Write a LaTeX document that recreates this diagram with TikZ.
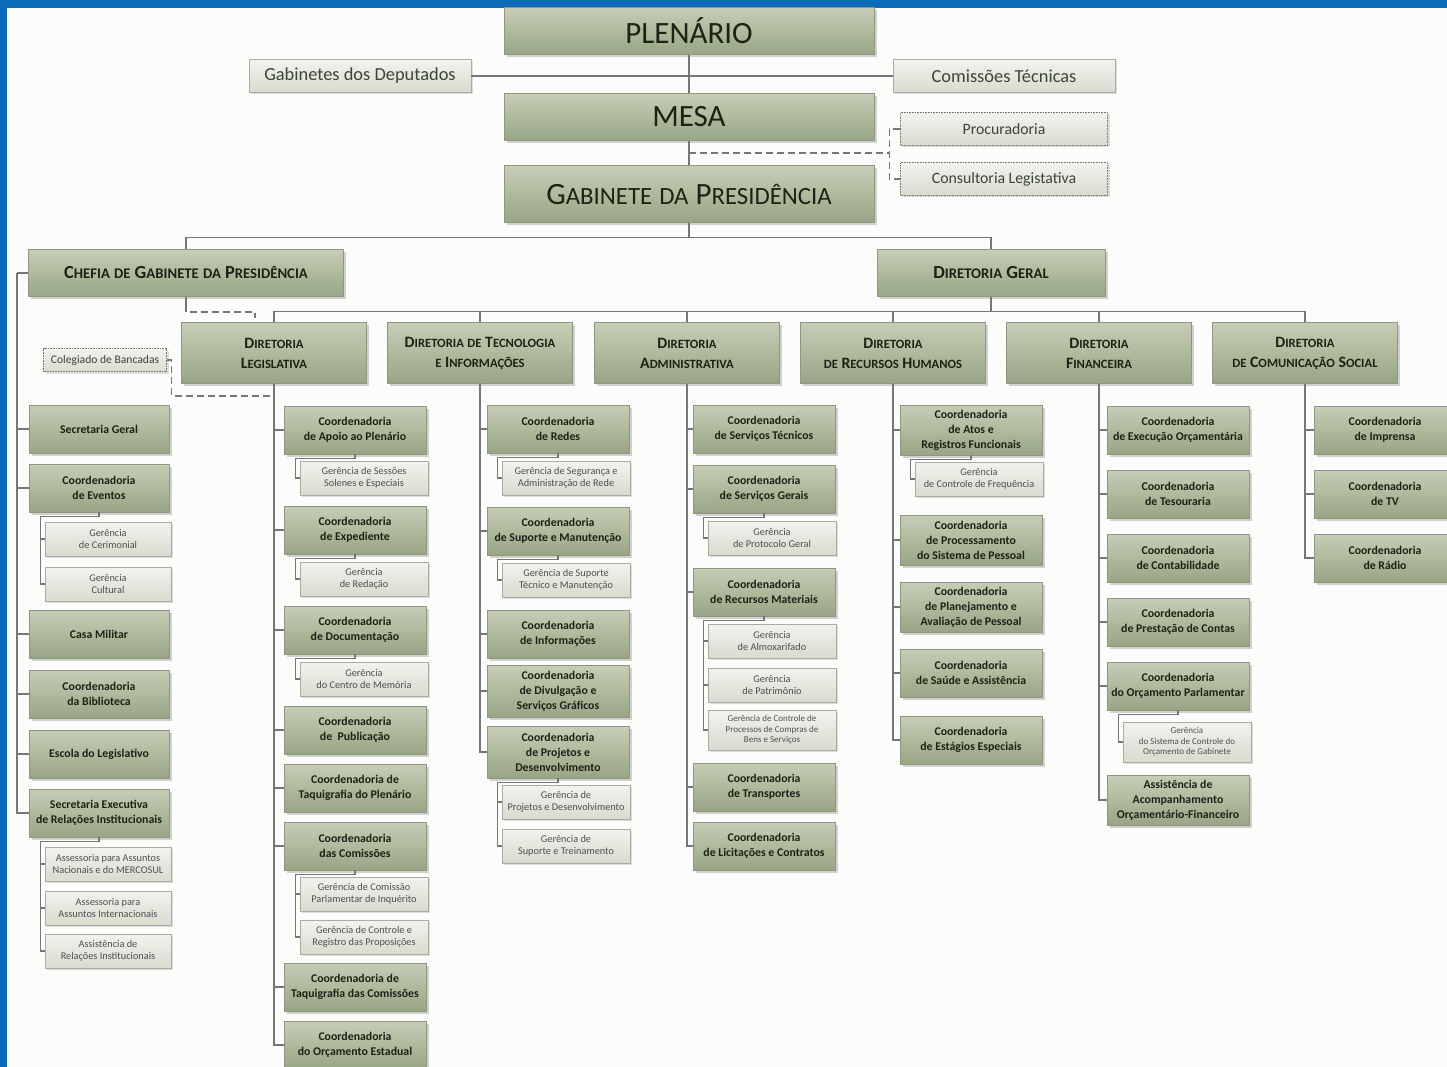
\documentclass[tikz,border=0pt]{standalone}
\usepackage{fontspec}
\setmainfont{Carlito}
\usetikzlibrary{shadows,calc}
\definecolor{frameblue}{HTML}{0B6BB8}
\definecolor{paper}{HTML}{FCFCFB}
\definecolor{gtop}{HTML}{C6CEB6}
\definecolor{gbot}{HTML}{98A585}
\definecolor{gdraw}{HTML}{8E977F}
\definecolor{ltop}{HTML}{F2F3EE}
\definecolor{lbot}{HTML}{D8DBCF}
\definecolor{ldraw}{HTML}{A8AD9F}
\definecolor{linegray}{HTML}{767676}
\definecolor{ink}{HTML}{1B2315}
\definecolor{inkl}{HTML}{4F4F4F}
\makeatletter
\newcommand\SC[2]{#1{\fontsize{\fpeval{0.8*\f@size}}{\f@baselineskip}\selectfont #2}}
\makeatother
\tikzset{
  gbox/.style={draw=gdraw,line width=0.6pt,top color=gtop,bottom color=gbot,drop shadow={shadow xshift=2.5pt,shadow yshift=-2.5pt,opacity=0.35},text=ink,align=center,inner sep=1pt},
  lbox/.style={draw=ldraw,line width=0.6pt,top color=ltop,bottom color=lbot,drop shadow={shadow xshift=2pt,shadow yshift=-2pt,opacity=0.25},text=inkl,align=center,inner sep=1pt},
  topbox/.style={gbox,minimum width=370pt,font=\fontsize{31}{33}\selectfont},
  headbox/.style={gbox,minimum height=47pt,font=\bfseries\fontsize{18.4}{21}\selectfont},
  dirbox/.style={gbox,minimum width=185pt,minimum height=61pt,font=\bfseries\fontsize{15.8}{20}\selectfont},
  coord/.style={gbox,minimum width=142pt,minimum height=48pt,font=\bfseries\fontsize{11.8}{15}\selectfont},
  ger/.style={lbox,minimum width=128pt,minimum height=34pt,font=\fontsize{10.3}{12}\selectfont},
  gersmall/.style={ger,minimum height=40pt,font=\fontsize{9}{10.5}\selectfont},
  side/.style={lbox,minimum width=222pt,minimum height=33pt,font=\fontsize{18.4}{21}\selectfont,text=ink!85},
  dbox/.style={lbox,draw=ldraw!70!black,densely dotted,minimum width=207pt,minimum height=33pt,font=\fontsize{15.8}{18}\selectfont,text=ink!85},
  link/.style={draw=linegray,line width=1.3pt},
  dlink/.style={link,dash pattern=on 7pt off 4pt}
}
\begin{document}
\begin{tikzpicture}[x=1pt,y=-1pt]
\path[use as bounding box] (0,0) rectangle (1447,1067);
\fill[frameblue] (0,0) rectangle (1447,1067);
\fill[paper] (7,8) rectangle (1447,1067);

% top levels
\node[topbox,minimum height=47pt] (plen) at (689,31) {PLENÁRIO};
\node[topbox,minimum height=47pt] (mesa) at (689,117) {MESA};
\node[topbox,minimum height=57pt] (gp) at (689,194) {\SC{G}{ABINETE} \SC{}{DA} \SC{P}{RESIDÊNCIA}};
\node[side] (gab) at (360,76) {Gabinetes dos Deputados};
\node[side] (com) at (1004,76) {Comissões Técnicas};
\node[dbox] (proc) at (1004,129) {Procuradoria};
\node[dbox] (cons) at (1004,179) {Consultoria Legistativa};
\node[headbox,minimum width=315pt] (cg) at (186,273) {\SC{C}{HEFIA} \SC{}{DE} \SC{G}{ABINETE} \SC{}{DA} \SC{P}{RESIDÊNCIA}};
\node[headbox,minimum width=228pt] (dg) at (991,273) {\SC{D}{IRETORIA} \SC{G}{ERAL}};

% diretorias
\node[dirbox] (dl) at (274,353) {\SC{D}{IRETORIA}\\\SC{L}{EGISLATIVA}};
\node[dirbox] (dti) at (480,353) {\SC{D}{IRETORIA} \SC{}{DE} \SC{T}{ECNOLOGIA}\\\SC{}{E} \SC{I}{NFORMAÇÕES}};
\node[dirbox] (da) at (687,353) {\SC{D}{IRETORIA}\\\SC{A}{DMINISTRATIVA}};
\node[dirbox] (drh) at (893,353) {\SC{D}{IRETORIA}\\\SC{}{DE} \SC{R}{ECURSOS} \SC{H}{UMANOS}};
\node[dirbox] (df) at (1099,353) {\SC{D}{IRETORIA}\\\SC{F}{INANCEIRA}};
\node[dirbox] (dcs) at (1305,353) {\SC{D}{IRETORIA}\\\SC{}{DE} \SC{C}{OMUNICAÇÃO} \SC{S}{OCIAL}};
\node[dbox,minimum width=123pt,minimum height=23pt,font=\fontsize{11.6}{13}\selectfont] (colb) at (105,360) {Colegiado de Bancadas};

% chefia de gabinete
\node[coord,minimum width=140pt] (sg) at (99,429) {Secretaria Geral};
\node[coord,minimum width=140pt] (cev) at (99,488) {Coordenadoria\\de Eventos};
\node[ger,minimum width=126pt] (gcer) at (108,539) {Gerência\\de Cerimonial};
\node[ger,minimum width=126pt] (gcul) at (108,584) {Gerência\\Cultural};
\node[coord,minimum width=140pt] (cm) at (99,634) {Casa Militar};
\node[coord,minimum width=140pt] (cbib) at (99,694) {Coordenadoria\\da Biblioteca};
\node[coord,minimum width=140pt] (esc) at (99,754) {Escola do Legislativo};
\node[coord,minimum width=140pt] (sec) at (99,813) {Secretaria Executiva\\de Relações Institucionais};
\node[ger,minimum width=126pt] (gnac) at (108,864) {Assessoria para Assuntos\\Nacionais e do MERCOSUL};
\node[ger,minimum width=126pt] (gint) at (108,908) {Assessoria para\\Assuntos Internacionais};
\node[ger,minimum width=126pt] (gari) at (108,951) {Assistência de\\Relações Institucionais};

% diretoria legislativa
\node[coord] (dl1) at (355,430) {Coordenadoria\\de Apoio ao Plenário};
\node[ger] (dlg1) at (364,478) {Gerência de Sessões\\Solenes e Especiais};
\node[coord] (dl2) at (355,530) {Coordenadoria\\de Expediente};
\node[ger] (dlg2) at (364,579) {Gerência\\de Redação};
\node[coord] (dl3) at (355,630) {Coordenadoria\\de Documentação};
\node[ger] (dlg3) at (364,679) {Gerência\\do Centro de Memória};
\node[coord] (dl4) at (355,730) {Coordenadoria\\de\ \ Publicação};
\node[coord] (dl5) at (355,788) {Coordenadoria de\\Taquigrafia do Plenário};
\node[coord] (dl6) at (355,846) {Coordenadoria\\das Comissões};
\node[ger] (dlg4) at (364,894) {Gerência de Comissão\\Parlamentar de Inquérito};
\node[ger] (dlg5) at (364,937) {Gerência de Controle e\\Registro das Proposições};
\node[coord] (dl7) at (355,987) {Coordenadoria de\\Taquigrafia das Comissões};
\node[coord] (dl8) at (355,1045) {Coordenadoria\\do Orçamento Estadual};

% tecnologia e informacoes
\node[coord] (ti1) at (558,429) {Coordenadoria\\de Redes};
\node[ger] (tig1) at (566,478) {Gerência de Segurança e\\Administração de Rede};
\node[coord] (ti2) at (558,531) {Coordenadoria\\de Suporte e Manutenção};
\node[ger] (tig2) at (566,580) {Gerência de Suporte\\Técnico e Manutenção};
\node[coord] (ti3) at (558,634) {Coordenadoria\\de Informações};
\node[coord,minimum height=52pt] (ti4) at (558,691) {Coordenadoria\\de Divulgação e\\Serviços Gráficos};
\node[coord,minimum height=52pt] (ti5) at (558,752) {Coordenadoria\\de Projetos e\\Desenvolvimento};
\node[ger] (tig3) at (566,802) {Gerência de\\Projetos e Desenvolvimento};
\node[ger] (tig4) at (566,846) {Gerência de\\Suporte e Treinamento};

% administrativa
\node[coord] (ad1) at (764,429) {Coordenadoria\\de Serviços Técnicos};
\node[coord] (ad2) at (764,489) {Coordenadoria\\de Serviços Gerais};
\node[ger] (adg1) at (772,538) {Gerência\\de Protocolo Geral};
\node[coord] (ad3) at (764,592) {Coordenadoria\\de Recursos Materiais};
\node[ger] (adg2) at (772,641) {Gerência\\de Almoxarifado};
\node[ger] (adg3) at (772,685) {Gerência\\de Patrimônio};
\node[gersmall] (adg4) at (772,730) {Gerência de Controle de\\Processos de Compras de\\Bens e Serviços};
\node[coord] (ad4) at (764,787) {Coordenadoria\\de Transportes};
\node[coord] (ad5) at (764,846) {Coordenadoria\\de Licitações e Contratos};

% recursos humanos
\node[coord,minimum height=50pt] (rh1) at (971,430) {Coordenadoria\\de Atos e\\Registros Funcionais};
\node[ger] (rhg1) at (979,479) {Gerência\\de Controle de Frequência};
\node[coord,minimum height=50pt] (rh2) at (971,540) {Coordenadoria\\de Processamento\\do Sistema de Pessoal};
\node[coord,minimum height=50pt] (rh3) at (971,607) {Coordenadoria\\de Planejamento e\\Avaliação de Pessoal};
\node[coord] (rh4) at (971,673) {Coordenadoria\\de Saúde e Assistência};
\node[coord] (rh5) at (971,740) {Coordenadoria\\de Estágios Especiais};

% financeira
\node[coord] (fi1) at (1178,430) {Coordenadoria\\de Execução Orçamentária};
\node[coord] (fi2) at (1178,494) {Coordenadoria\\de Tesouraria};
\node[coord] (fi3) at (1178,558) {Coordenadoria\\de Contabilidade};
\node[coord] (fi4) at (1178,622) {Coordenadoria\\de Prestação de Contas};
\node[coord] (fi5) at (1178,686) {Coordenadoria\\do Orçamento Parlamentar};
\node[gersmall] (fig1) at (1187,742) {Gerência\\do Sistema de Controle do\\Orçamento de Gabinete};
\node[coord,minimum height=50pt] (fi6) at (1178,800) {Assistência de\\Acompanhamento\\Orçamentário-Financeiro};

% comunicacao social
\node[coord] (cs1) at (1385,430) {Coordenadoria\\de Imprensa};
\node[coord] (cs2) at (1385,494) {Coordenadoria\\de TV};
\node[coord] (cs3) at (1385,558) {Coordenadoria\\de Rádio};

% connectors
\draw[link] (plen) -- (mesa); \draw[link] (mesa) -- (gp); \draw[link] (gab) -- (com);
\coordinate (dj) at (890,153);
\draw[dlink] (mesa.south |- dj) -- (dj);
\draw[dlink] (proc.west) -- ++(-11,0) |- (cons.west);
\draw[link] (gp.south) -- ++(0,15) -| (cg.north);
\draw[link] (gp.south) -- ++(0,15) -| (dg.north);
\foreach \n in {dl,dti,da,drh,df,dcs}
  \draw[link] (dg.south) -- ++(0,15) -| (\n.north);
\coordinate (dlk) at (255,318);
\draw[link] (cg.south) -- ++(0,8) coordinate (cgb);
\draw[dlink] (cgb) |- ([yshift=6pt]dlk) -- (dlk);
\coordinate (colj) at (273,396);
\draw[dlink] (colb.east) -- ++(5,0) |- (colj);
\coordinate (cgl) at (17,273);
\draw[link] (cg.west) -- (cgl);
\foreach \n in {sg,cev,cm,cbib,esc,sec} \draw[link] (cgl) |- (\n.west);
\foreach \n in {dl1,dl2,dl3,dl4,dl5,dl6,dl7,dl8} \draw[link] (dl.south) |- (\n.west);
\foreach \n in {ti1,ti2,ti3,ti4,ti5} \draw[link] (dti.south) |- (\n.west);
\foreach \n in {ad1,ad2,ad3,ad4,ad5} \draw[link] (da.south) |- (\n.west);
\foreach \n in {rh1,rh2,rh3,rh4,rh5} \draw[link] (drh.south) |- (\n.west);
\foreach \n in {fi1,fi2,fi3,fi4,fi5,fi6} \draw[link] (df.south) |- (\n.west);
\foreach \n in {cs1,cs2,cs3} \draw[link] (dcs.south) |- (\n.west);
\foreach \c/\g in {cev/gcer,sec/gnac,dl1/dlg1,dl2/dlg2,dl3/dlg3,dl6/dlg4,ti1/tig1,ti2/tig2,ti5/tig3,ad2/adg1,ad3/adg2,rh1/rhg1,fi5/fig1}
  \draw[link] (\c.south) -- ++(0,4) -| ([xshift=-4pt]\g.west) -- (\g.west);
\foreach \a/\b in {gcer/gcul,gnac/gint,gint/gari,dlg4/dlg5,tig3/tig4,adg2/adg3,adg3/adg4}
  \draw[link] ([xshift=-4pt]\a.west) |- (\b.west);
\end{tikzpicture}
\end{document}
